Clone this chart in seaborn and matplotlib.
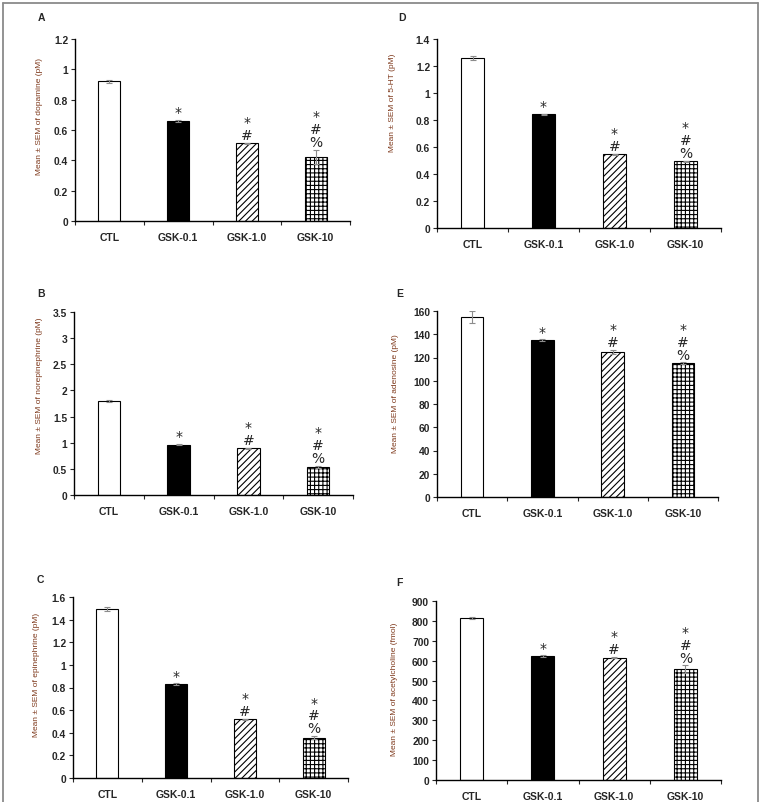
import numpy as np
import pandas as pd
import matplotlib
matplotlib.use("Agg")
import matplotlib.pyplot as plt
from matplotlib.lines import Line2D
from matplotlib.ticker import FuncFormatter, MultipleLocator
import seaborn as sns

# ---------------- data ----------------
categories = ["CTL", "GSK-0.1", "GSK-1.0", "GSK-10"]
marks = ["", "*", "*\n#", "*\n#\n%"]

dopamine = [0.92, 0.66, 0.512, 0.422]
dopamine_err = [0.01, 0.007, 0.004, 0.048]

norepinephrine = [1.80, 0.96, 0.89, 0.54]
norepinephrine_err = [0.02, 0.012, 0.01, 0.02]

epinephrine = [1.494, 0.832, 0.518, 0.356]
epinephrine_err = [0.02, 0.006, 0.005, 0.015]

serotonin = [1.259, 0.841, 0.547, 0.495]
serotonin_err = [0.018, 0.006, 0.004, 0.004]

adenosine = [155.0, 135.0, 125.0, 115.0]
adenosine_err = [5.0, 0.6, 1.7, 0.8]

acetylcholine = [813, 623, 615, 556]
acetylcholine_err = [5, 3, 3, 20]

ylabels = {
    "A": "Mean \u00b1 SEM of dopamine (pM)",
    "B": "Mean \u00b1 SEM of norepinephrine (pM)",
    "C": "Mean \u00b1 SEM of epinephrine (pM)",
    "D": "Mean \u00b1 SEM of 5-HT (pM)",
    "E": "Mean \u00b1 SEM of adenosine (pM)",
    "F": "Mean \u00b1 SEM of acetylcholine (fmol)",
}

# ---------------- style ----------------
sns.set_style("ticks")
plt.rcParams["font.family"] = ["Liberation Sans", "DejaVu Sans"]
plt.rcParams["hatch.linewidth"] = 0.8

W, H = 767, 803
fig = plt.figure(figsize=(W / 100, H / 100), dpi=100)
fig.patch.set_facecolor("white")

# outer frame
for xs, ys in [((3, 3), (4, 803)), ((3, 758), (4, 4)), ((758, 758), (4, 803))]:
    fig.add_artist(Line2D([x / W for x in xs], [1 - y / H for y in ys],
                          color="#8a8a8a", lw=1.3, transform=fig.transFigure))

facecolors = ["white", "black", "white", "white"]
hatches = [None, None, "/////", "++++"]

# (key, values, errs, ymax, ystep, box(l,t,r,b), label pos, ylabel x-offset px, ylabel frac)
panels = [
    ("A", dopamine, dopamine_err, 1.2, 0.2, (75, 40, 350, 222), (38, 18), 32, 0.58),
    ("B", norepinephrine, norepinephrine_err, 3.5, 0.5, (74, 313, 353, 496), (37, 294), 31, 0.60),
    ("C", epinephrine, epinephrine_err, 1.6, 0.2, (73, 598, 348, 779), (37, 580), 33, 0.575),
    ("D", serotonin, serotonin_err, 1.4, 0.2, (437, 40, 721, 229), (398, 18), 41, 0.67),
    ("E", adenosine, adenosine_err, 160, 20, (437, 312, 718, 498), (396, 294), 38, 0.56),
    ("F", acetylcholine, acetylcholine_err, 900, 100, (436, 602, 721, 781), (396, 583), 38, 0.51),
]

for key, vals, errs, ymax, ystep, (l, t, r, b), (lx, ly), yoff, yfrac in panels:
    ax = fig.add_axes([l / W, 1 - b / H, (r - l) / W, (b - t) / H])
    df = pd.DataFrame({"group": categories, "value": vals})
    sns.barplot(data=df, x="group", y="value", hue="group",
                palette=dict(zip(categories, facecolors)), legend=False,
                width=0.32, edgecolor="black", linewidth=0.8, ax=ax,
                errorbar=None, saturation=1)
    for cont, h in zip(ax.containers, hatches):
        for p in cont:
            if h:
                p.set_hatch(h)
    ax.errorbar(np.arange(len(categories)), vals, yerr=errs, fmt="none",
                ecolor="#8c8c8c", elinewidth=0.8, capsize=2.5, capthick=0.8,
                zorder=3)
    for i, (v, e, m) in enumerate(zip(vals, errs, marks)):
        if m:
            ax.annotate(m, (i, v + e), xytext=(0, 0.5), textcoords="offset points",
                        ha="center", va="bottom", fontsize=10, linespacing=0.9,
                        family=["DejaVu Sans"])

    ax.set_xlim(-0.5, len(categories) - 0.5)
    ax.set_ylim(0, ymax)
    ax.yaxis.set_major_locator(MultipleLocator(ystep))
    ax.yaxis.set_major_formatter(FuncFormatter(lambda v, p: f"{v:g}"))
    ax.set_xticks(np.arange(len(categories)))
    ax.set_xticklabels(categories)
    ax.set_xticks(np.arange(-0.5, len(categories)), minor=True)
    ax.tick_params(axis="x", which="major", length=0, pad=8, labelsize=7.5)
    ax.tick_params(axis="x", which="minor", length=3, width=0.8, direction="out")
    ax.tick_params(axis="y", length=3, width=0.8, direction="out", labelsize=7.4, pad=2)
    for lab in ax.get_xticklabels() + ax.get_yticklabels():
        lab.set_fontweight("bold")
    sns.despine(ax=ax)
    for s in ("left", "bottom"):
        ax.spines[s].set_linewidth(1.0)
        ax.spines[s].set_color("black")
    ax.set_xlabel("")
    ax.set_ylabel(ylabels[key], fontsize=6, color="#7f3a1d")
    ax.yaxis.set_label_coords(-yoff / (r - l), yfrac)
    ax.set_facecolor("white")
    fig.text(lx / W, 1 - ly / H, key, fontsize=7.5, fontweight="bold",
             ha="left", va="center")

fig.savefig("out.png", dpi=100)
